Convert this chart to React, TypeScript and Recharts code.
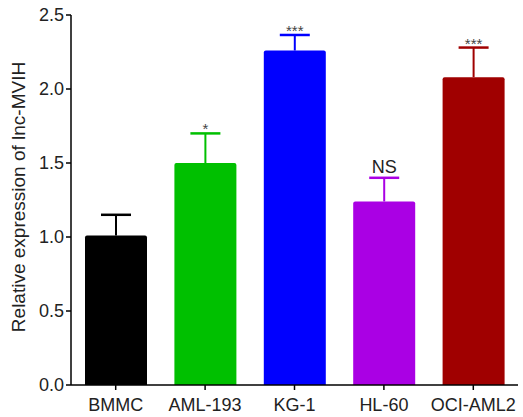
import { BarChart, Bar, XAxis, YAxis, Label, Rectangle } from 'recharts';

const categories = ['BMMC', 'AML-193', 'KG-1', 'HL-60', 'OCI-AML2'];
const means = [1.01, 1.5, 2.26, 1.24, 2.08];
const sems = [0.14, 0.2, 0.105, 0.16, 0.2];
const signif = ['', '*', '***', 'NS', '***'];
const colors = ['#000000', '#00c000', '#0000ff', '#aa00e4', '#a00000'];
const yTicks = [0, 0.5, 1, 1.5, 2, 2.5];

const data = categories.map((name, i) => ({
  name,
  value: means[i],
  err: sems[i],
  sig: signif[i],
  color: colors[i],
}));

const FONT = '"Liberation Sans", Arial, Helvetica, sans-serif';

// bar + one-sided error bar + significance mark, in the bar's colour
function BarWithError(props: any) {
  const { x, y, width, height, payload, value } = props;
  const pxPerUnit = height / value;
  const top = y - payload.err * pxPerUnit;
  const cx = x + width / 2;
  const cap = 15;
  return (
    <g>
      <Rectangle x={x} y={y} width={width} height={height} radius={[2, 2, 0, 0]} fill={payload.color} />
      <line x1={cx} y1={y} x2={cx} y2={top} stroke={payload.color} strokeWidth={2} />
      <line x1={cx - cap} y1={top} x2={cx + cap} y2={top} stroke={payload.color} strokeWidth={2.5} />
      {payload.sig === 'NS' ? (
        <text x={cx} y={top - 5} textAnchor="middle" fontSize={18} fill="#222" fontFamily={FONT}>
          {payload.sig}
        </text>
      ) : payload.sig ? (
        <text x={cx} y={top + 1} textAnchor="middle" fontSize={15} fill="#444" fontFamily={FONT}>
          {payload.sig}
        </text>
      ) : null}
    </g>
  );
}

function YTitle(props: any) {
  const { viewBox } = props;
  const x = viewBox.x + 18;
  const y = viewBox.y + viewBox.height / 2 - 3;
  return (
    <text
      x={x}
      y={y}
      transform={`rotate(-90 ${x} ${y})`}
      textAnchor="middle"
      dominantBaseline="central"
      fontSize={19}
      fill="#222"
      fontFamily={FONT}
    >
      Relative expression of lnc-MVIH
    </text>
  );
}

export default function App() {
  return (
    <div style={{ position: 'absolute', left: 0, top: 0, background: '#fff' }}>
      <BarChart width={523} height={417} data={data} margin={{ top: 15, right: 5, bottom: 0, left: 0 }}>
        <XAxis
          dataKey="name"
          height={32}
          axisLine={{ stroke: '#000', strokeWidth: 1.5 }}
          tickLine={{ stroke: '#000', strokeWidth: 1.5 }}
          tickSize={5}
          tickMargin={8}
          tick={{ fontSize: 18, fill: '#222', fontFamily: FONT }}
        />
        <YAxis
          width={71}
          domain={[0, 2.5]}
          ticks={yTicks}
          interval={0}
          tickFormatter={(v: number) => v.toFixed(1)}
          axisLine={{ stroke: '#000', strokeWidth: 1.5 }}
          tickLine={{ stroke: '#000', strokeWidth: 1.5 }}
          tickSize={5}
          tickMargin={2}
          tick={{ fontSize: 18, fill: '#222', fontFamily: FONT }}
        >
          <Label content={<YTitle />} />
        </YAxis>
        <Bar dataKey="value" barSize={62} shape={<BarWithError />} isAnimationActive={false} />
      </BarChart>
    </div>
  );
}
